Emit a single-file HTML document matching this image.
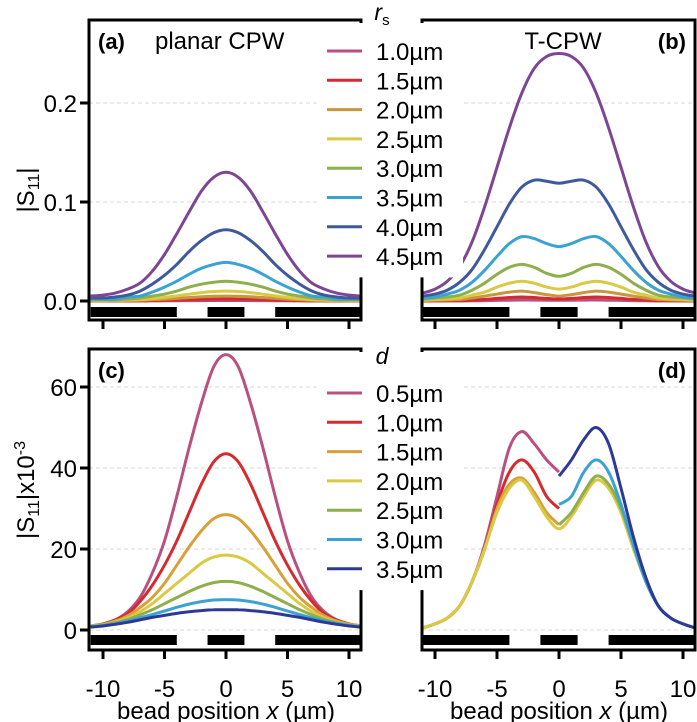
<!DOCTYPE html>
<html><head><meta charset="utf-8"><style>
html,body{margin:0;padding:0;background:#fff}
svg{display:block;font-family:"Liberation Sans",sans-serif}
</style></head><body>
<svg id="chart" width="697" height="722" viewBox="0 0 697 722" xmlns="http://www.w3.org/2000/svg"></svg>
<script>
// ---------- data ----------
const xs = [-11,-10,-9,-8,-7,-6,-5,-4,-3,-2,-1,0,1,2,3,4,5,6,7,8,9,10,11];
const rsLabels = ["1.0µm","1.5µm","2.0µm","2.5µm","3.0µm","3.5µm","4.0µm","4.5µm"];
const rsColors = ["#b9507f","#d62a2e","#c8963c","#d9c943","#8fae4c","#3aa3d4","#3f5a9c","#7e4595"];
const dLabels = ["0.5µm","1.0µm","1.5µm","2.0µm","2.5µm","3.0µm","3.5µm"];
const dColors = ["#b9507f","#d62a2e","#d9a03a","#d9c943","#8fae4c","#3aa3d4","#2c3a95"];
const yTicksTop = [0,0.1,0.2];
const yTickLabelsTop = ["0.0","0.1","0.2"];
const yTicksBot = [0,20,40,60];
const xTicks = [-10,-5,0,5,10];
// panel (a) planar CPW
const seriesA = [
 [0,0,0,0,0,0.0001,0.0002,0.0003,0.0004,0.0004,0.0005,0.0005,0.0005,0.0004,0.0004,0.0003,0.0002,0.0001,0,0,0,0,0],
 [0.0001,0.0001,0.0001,0.0002,0.0003,0.0005,0.0007,0.001,0.0014,0.0017,0.0019,0.002,0.0019,0.0017,0.0014,0.001,0.0007,0.0005,0.0003,0.0002,0.0001,0.0001,0.0001],
 [0.0003,0.0003,0.0004,0.0005,0.0007,0.0012,0.0018,0.0026,0.0035,0.0043,0.0048,0.005,0.0048,0.0043,0.0035,0.0026,0.0018,0.0012,0.0007,0.0005,0.0004,0.0003,0.0003],
 [0.0005,0.0005,0.0006,0.001,0.0014,0.0023,0.0036,0.0052,0.0069,0.0085,0.0096,0.010,0.0096,0.0085,0.0069,0.0052,0.0036,0.0023,0.0014,0.001,0.0006,0.0005,0.0005],
 [0.001,0.001,0.001,0.002,0.003,0.005,0.007,0.010,0.014,0.017,0.019,0.020,0.019,0.017,0.014,0.010,0.007,0.005,0.003,0.002,0.001,0.001,0.001],
 [0.002,0.002,0.002,0.004,0.005,0.009,0.014,0.020,0.027,0.033,0.037,0.039,0.037,0.033,0.027,0.020,0.014,0.009,0.005,0.004,0.002,0.002,0.002],
 [0.003,0.003,0.004,0.006,0.010,0.017,0.026,0.037,0.050,0.061,0.069,0.072,0.069,0.061,0.050,0.037,0.026,0.017,0.010,0.006,0.004,0.003,0.003],
 [0.005,0.006,0.008,0.012,0.018,0.030,0.047,0.068,0.090,0.111,0.125,0.130,0.125,0.111,0.090,0.068,0.047,0.030,0.018,0.012,0.008,0.006,0.005]
];
// panel (b) T-CPW
const seriesB = [
 [0,0,0,0,0.0002,0.0004,0.0006,0.0008,0.001,0.0009,0.0008,0.0008,0.0008,0.0009,0.001,0.0008,0.0006,0.0004,0.0002,0,0,0,0],
 [0.0002,0.0003,0.0004,0.0006,0.001,0.0016,0.0026,0.0035,0.004,0.0035,0.0026,0.002,0.0026,0.0035,0.004,0.0035,0.0026,0.0016,0.001,0.0006,0.0004,0.0003,0.0002],
 [0.0005,0.0008,0.001,0.0015,0.003,0.005,0.007,0.009,0.010,0.0085,0.0065,0.005,0.0065,0.0085,0.010,0.009,0.007,0.005,0.003,0.0015,0.001,0.0008,0.0005],
 [0.001,0.0015,0.002,0.003,0.006,0.009,0.014,0.018,0.020,0.018,0.014,0.012,0.014,0.018,0.020,0.018,0.014,0.009,0.006,0.003,0.002,0.0015,0.001],
 [0.002,0.003,0.004,0.006,0.011,0.018,0.027,0.034,0.037,0.034,0.028,0.025,0.028,0.034,0.037,0.034,0.027,0.018,0.011,0.006,0.004,0.003,0.002],
 [0.003,0.004,0.007,0.011,0.019,0.031,0.045,0.058,0.065,0.063,0.058,0.055,0.058,0.063,0.065,0.058,0.045,0.031,0.019,0.011,0.007,0.004,0.003],
 [0.005,0.007,0.011,0.019,0.032,0.052,0.075,0.098,0.115,0.122,0.121,0.119,0.121,0.122,0.115,0.098,0.075,0.052,0.032,0.019,0.011,0.007,0.005],
 [0.008,0.012,0.020,0.035,0.060,0.095,0.135,0.175,0.210,0.235,0.247,0.250,0.247,0.235,0.210,0.175,0.135,0.095,0.060,0.035,0.020,0.012,0.008]
];
// panel (c) planar CPW, x1e-3
const seriesC = [
 [1,1.5,2.5,4.5,8,14,22,33,45,56,65,68,65,56,45,33,22,14,8,4.5,2.5,1.5,1],
 [1,1.5,2.5,4,7,11,16,22,29,36,41.5,43.5,41.5,36,29,22,16,11,7,4,2.5,1.5,1],
 [1,1.4,2.2,3.5,5.5,8,11.5,16,20.5,24.5,27.5,28.5,27.5,24.5,20.5,16,11.5,8,5.5,3.5,2.2,1.4,1],
 [1,1.3,2,3,4.5,6.5,9,11.5,14,16.5,18,18.5,18,16.5,14,11.5,9,6.5,4.5,3,2,1.3,1],
 [0.9,1.2,1.8,2.6,3.7,5,6.5,8,9.5,10.8,11.7,12,11.7,10.8,9.5,8,6.5,5,3.7,2.6,1.8,1.2,0.9],
 [0.8,1.1,1.6,2.2,3,3.8,4.7,5.6,6.4,7,7.4,7.5,7.4,7,6.4,5.6,4.7,3.8,3,2.2,1.6,1.1,0.8],
 [0.7,1,1.4,1.9,2.5,3.1,3.6,4.1,4.5,4.8,5,5,5,4.8,4.5,4.1,3.6,3.1,2.5,1.9,1.4,1,0.7]
];
// panel (d) T-CPW, x1e-3 (null = not drawn)
const N = null;
const seriesD = [
 [0.5,1.5,3,6,12,21,33,45,49,46,42,39,N,N,N,N,N,N,N,N,N,N,N],
 [0.5,1.5,3,6,12,20,31,39,42,39,33,30,N,N,N,N,N,N,N,N,N,N,N],
 [0.5,1.5,3,6,12,20,30,36,37.5,34,29,26,N,N,N,N,N,N,N,N,N,N,N],
 [0.5,1.5,3,6,12,20,29,35,37,33,28,25,28,33,37,35,29,20,12,6,3,1.5,0.5],
 [N,N,N,N,N,N,N,N,N,N,N,26,29,34,38,36,30,21,12,6,3,1.5,0.5],
 [N,N,N,N,N,N,N,N,N,N,N,31,33,39,42,39,31,21,12,6,3,1.5,0.5],
 [N,N,N,N,N,N,N,N,N,N,N,38,42,47,50,46,35,23,13,6,3,1.5,0.5]
];
const gaps = [[-11,-4],[-1.5,1.5],[4,11]];

// ---------- drawing ----------
const svg = document.getElementById('chart');
const NS = 'http://www.w3.org/2000/svg';
function mk(tag, attrs, parent){
  const e = document.createElementNS(NS, tag);
  for (const k in attrs) e.setAttribute(k, attrs[k]);
  (parent||svg).appendChild(e);
  return e;
}
const panels = [
 {id:'a', x0:89, x1:361, top:20, bot:320, xc:226, sx:12.3, y0:301, sy:990, barY:307, series:seriesA, colors:rsColors, ticks:yTicksTop, tl:yTickLabelsTop, left:true},
 {id:'b', x0:422, x1:695, top:20, bot:320, xc:559, sx:12.4, y0:301, sy:990, barY:307, series:seriesB, colors:rsColors, ticks:yTicksTop, tl:null, left:false},
 {id:'c', x0:89, x1:361, top:349, bot:650, xc:226, sx:12.3, y0:630, sy:4.05, barY:635, series:seriesC, colors:dColors, ticks:yTicksBot, tl:yTicksBot.map(String), left:true},
 {id:'d', x0:422, x1:695, top:349, bot:650, xc:559, sx:12.4, y0:630, sy:4.05, barY:635, series:seriesD, colors:dColors, ticks:yTicksBot, tl:null, left:false}
];
function pathFor(pts){
  if (pts.length<2) return '';
  let d = `M${pts[0][0]},${pts[0][1]}`;
  for (let i=0;i<pts.length-1;i++){
    const p0=pts[Math.max(0,i-1)], p1=pts[i], p2=pts[i+1], p3=pts[Math.min(pts.length-1,i+2)];
    const c1=[p1[0]+(p2[0]-p0[0])/6, p1[1]+(p2[1]-p0[1])/6];
    const c2=[p2[0]-(p3[0]-p1[0])/6, p2[1]-(p3[1]-p1[1])/6];
    d += ` C${c1[0].toFixed(1)},${c1[1].toFixed(1)} ${c2[0].toFixed(1)},${c2[1].toFixed(1)} ${p2[0].toFixed(1)},${p2[1].toFixed(1)}`;
  }
  return d;
}
panels.forEach(p=>{
  const X = v => p.xc + v*p.sx;
  const Y = v => p.y0 - v*p.sy;
  const g = mk('g',{});
  
  
  p.ticks.forEach(t=>{
    const l = mk('line',{x1:p.x0,x2:p.x1,y1:Y(t),y2:Y(t),stroke:'#d8d8d8','stroke-width':1,'stroke-dasharray':'4,3'},g);
    
    
  });
  p.series.forEach((s,i)=>{
    const pts=[];
    s.forEach((v,j)=>{ if(v!==null) pts.push([X(xs[j]),Y(v)]); });
    const path = mk('path',{d:pathFor(pts),fill:'none',stroke:p.colors[i],'stroke-width':3,'stroke-linejoin':'round'},g);
    
    
  });
  gaps.forEach(b=>{
    const r = mk('rect',{x:Math.max(p.x0,X(b[0])),y:p.barY,width:Math.min(p.x1,X(b[1]))-Math.max(p.x0,X(b[0])),height:10,fill:'#000'},g);
    
    
  });
  const fr = mk('rect',{x:p.x0,y:p.top,width:p.x1-p.x0,height:p.bot-p.top,fill:'none',stroke:'#000','stroke-width':3},g);
  
  
  xTicks.forEach(t=>{
    const tk = mk('line',{x1:X(t),x2:X(t),y1:p.bot,y2:p.bot+9,stroke:'#000','stroke-width':3},g);
    
    
    if (p.top>300){
      const tx = mk('text',{x:X(t),y:697,'font-size':24,'text-anchor':'middle'},g);
      tx.textContent = t;
      
      
    }
  });
  if (p.left){
    p.ticks.forEach((t,i)=>{
      const tk = mk('line',{x1:p.x0-9,x2:p.x0,y1:Y(t),y2:Y(t),stroke:'#000','stroke-width':3},g);
      
      
      const tx = mk('text',{x:p.x0-12,y:Y(t)+9,'font-size':24,'text-anchor':'end'},g);
      tx.textContent = p.tl[i];
      
      
    });
  }
});
function legend(title, labels, colors, rectTop, titleY, y0, name){
  const g = mk('g',{});
  
  
  mk('rect',{x:318,y:rectTop,width:145,height:(y0-rectTop)+labels.length*29.3-8,fill:'#fff'},g);
  const t = mk('text',{x:382,y:titleY,'font-size':23,'font-style':'italic','text-anchor':'middle'},g);
  t.innerHTML = title;
  
  
  labels.forEach((lb,i)=>{
    const y = y0 + i*29.3;
    const l = mk('line',{x1:327,x2:362,y1:y,y2:y,stroke:colors[i],'stroke-width':3},g);
    
    
    const tx = mk('text',{x:376,y:y+9,'font-size':24},g);
    tx.textContent = lb;
    
    
  });
}
legend('r<tspan font-size="15" dy="5" font-style="normal">s</tspan>', rsLabels, rsColors, 23, 20, 51, 'legend-rs');
legend('d', dLabels, dColors, 352, 364, 393, 'legend-d');
function txt(x,y,s,attrs,name){
  const t = mk('text',Object.assign({x:x,y:y,'font-size':24},attrs||{}));
  t.innerHTML = s;
  
  
  return t;
}
txt(98,49,'(a)',{'font-weight':'bold','font-size':22},'panel-label-a');
txt(155,49,'planar CPW',{},'panel-title-a');
txt(686,49,'(b)',{'font-weight':'bold','font-size':22,'text-anchor':'end'},'panel-label-b');
txt(563,49,'T-CPW',{'text-anchor':'middle'},'panel-title-b');
txt(98,378,'(c)',{'font-weight':'bold','font-size':22},'panel-label-c');
txt(686,378,'(d)',{'font-weight':'bold','font-size':22,'text-anchor':'end'},'panel-label-d');
txt(226,719,'bead position <tspan font-style="italic">x</tspan> (µm)',{'text-anchor':'middle'},'x-axis-title-left');
txt(559,719,'bead position <tspan font-style="italic">x</tspan> (µm)',{'text-anchor':'middle'},'x-axis-title-right');
txt(0,0,'|S<tspan font-size="16" dy="5">11</tspan><tspan dy="-5">|</tspan>',{transform:'translate(34,190) rotate(-90)','text-anchor':'middle'},'y-axis-title-top');
txt(0,0,'|S<tspan font-size="16" dy="5">11</tspan><tspan dy="-5">|x10</tspan><tspan font-size="16" dy="-9">-3</tspan>',{transform:'translate(34,490) rotate(-90)','text-anchor':'middle'},'y-axis-title-bottom');
</script>
</body></html>
